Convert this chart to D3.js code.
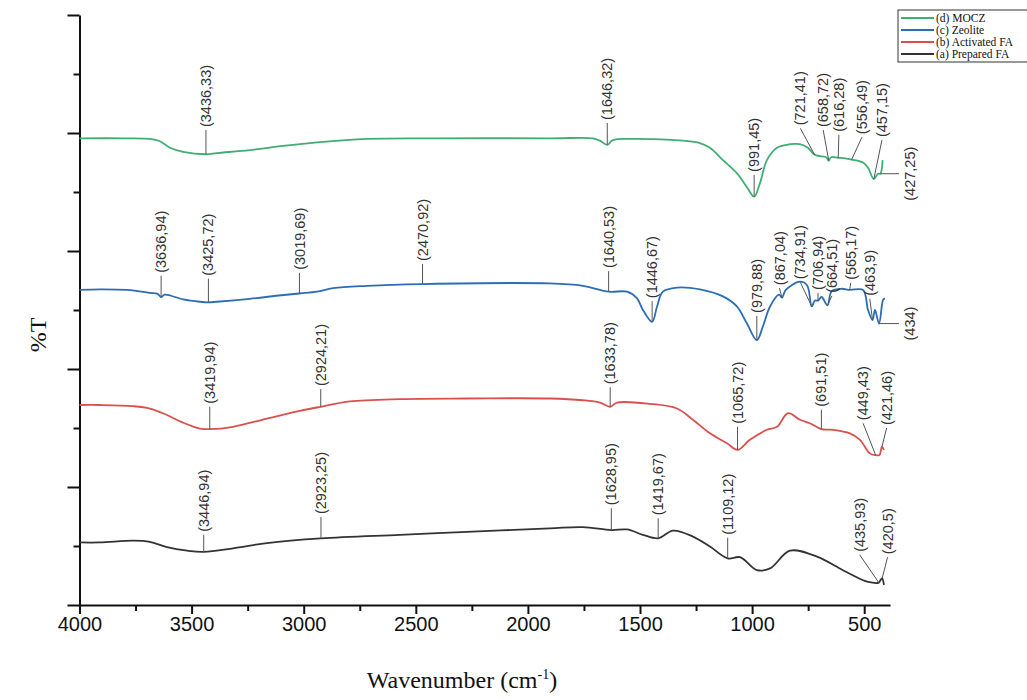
<!DOCTYPE html>
<html>
<head>
<meta charset="utf-8">
<script src="https://cdn.jsdelivr.net/npm/d3@7"></script>
<style>
  body { margin: 0; background: #fff; }
  svg text { font-family: "Liberation Sans", Arial, sans-serif; }
</style>
</head>
<body>
<div id="chart"></div>
<script>
// Data //
var legendNames = ["(d) MOCZ", "(c) Zeolite", "(b) Activated FA", "(a) Prepared FA"];
var colors = ["#3fae72", "#2d6db5", "#d9514c", "#333333"];

var xMajor = [4000, 3500, 3000, 2500, 2000, 1500, 1000, 500];
var xMinor = [3750, 3250, 2750, 2250, 1750, 1250, 750];
var yMajor = [0, 20, 40, 60, 80, 100];
var yMinor = [10, 30, 50, 70, 90];

// [wavenumber, %T (stacked, arbitrary offset)]
var mocz = [[4000,79.1],[3800,79.1],[3686,79.0],[3641,78.6],[3596,77.5],[3538,76.8],[3436,76.4],[3387,76.6],
  [3240,77.1],[3092,77.8],[2941,78.4],[2718,79.0],[2423,79.1],[1902,79.1],[1710,79.1],[1679,78.7],[1646,78.0],
  [1621,78.8],[1531,79.0],[1308,78.7],[1233,78.3],[1188,77.5],[1130,75.4],[1068,73.2],[1023,70.8],[991,69.2],
  [965,71.5],[934,75.4],[889,77.5],[831,78.1],[787,78.1],[751,77.5],[721,76.3],[697,76.1],[670,75.9],[658,75.3],
  [648,75.9],[616,75.8],[585,75.7],[556,75.5],[505,75.0],[483,74.1],[457,72.2],[439,73.1],[428,73.1],[418,75.4]];

var zeolite = [[4000,53.4],[3909,53.5],[3788,53.4],[3686,52.9],[3650,52.7],[3636,52.2],[3620,52.6],[3538,51.8],
  [3463,51.4],[3425,51.3],[3387,51.4],[3240,51.9],[3100,52.5],[3019,52.8],[2941,53.1],[2869,53.7],[2718,54.1],
  [2470,54.4],[1902,54.5],[1755,54.1],[1640,53.1],[1558,53.1],[1514,52.0],[1487,50.0],[1446,48.0],[1424,50.6],
  [1398,53.1],[1335,53.8],[1233,53.5],[1130,52.3],[1068,50.6],[1023,47.7],[979,44.9],[952,47.2],[920,50.6],
  [880,52.6],[867,52.1],[850,53.4],[787,54.8],[755,54.2],[734,50.6],[720,51.6],[706,51.6],[690,52.2],[664,50.8],
  [645,53.2],[600,53.6],[565,53.4],[505,53.4],[483,50.0],[463,48.3],[452,50.0],[434,47.7],[416,51.7],[408,52.0]];

var activatedFA = [[4000,33.9],[3909,33.9],[3761,33.7],[3686,33.3],[3610,32.2],[3538,30.9],[3463,29.9],[3419,29.8],
  [3315,30.2],[3164,31.6],[3017,32.9],[2924,33.6],[2794,34.5],[2571,34.9],[2272,35.0],[1902,35.0],[1755,34.7],
  [1679,34.3],[1633,33.6],[1603,34.3],[1456,34.1],[1335,33.3],[1264,31.4],[1188,29.1],[1112,27.4],[1065,26.3],
  [1010,28.0],[934,29.7],[889,30.2],[840,32.5],[787,31.4],[742,30.8],[691,29.8],[639,29.7],[564,29.1],[519,28.0],
  [475,25.7],[449,25.4],[432,25.4],[421,26.8],[412,26.3]];

var preparedFA = [[4000,10.6],[3909,10.6],[3761,10.9],[3686,10.7],[3610,9.8],[3520,9.2],[3446,9.0],[3315,9.6],
  [3164,10.5],[2923,11.3],[2571,11.9],[2272,12.4],[1902,13.0],[1755,13.2],[1628,12.7],[1558,12.8],[1487,11.9],
  [1419,11.3],[1353,12.6],[1264,11.6],[1188,9.9],[1109,7.9],[1054,8.1],[978,5.9],[920,6.2],[831,9.2],[711,8.2],
  [595,5.9],[505,4.2],[483,3.9],[435,3.8],[426,4.3],[420,4.5],[412,3.4]];

// peak labels: [peak wavenumber, text, label wavenumber, label %T]  (label %T null = side label)
var moczPeaks = [[3436,"(3436,33)",3436,80.5],[1646,"(1646,32)",1646,81.7],[991,"(991,45)",991,72.9],
  [721,"(721,41)",785,80.8],[658,"(658,72)",683,80.5],[616,"(616,28)",613,79.7],[556,"(556,49)",510,79.3],
  [457,"(457,15)",421,78.8],[428,"(427,25)",345,null]];
var zeolitePeaks = [[3636,"(3636,94)",3636,55.8],[3425,"(3425,72)",3425,55.3],[3019,"(3019,69)",3019,56.3],
  [2470,"(2470,92)",2470,57.8],[1640,"(1640,53)",1640,56.6],[1446,"(1446,67)",1446,51.5],[979,"(979,88)",979,49.0],
  [867,"(867,04)",878,53.7],[734,"(734,91)",785,54.7],[706,"(706,94)",706,52.9],[664,"(664,51)",644,52.4],
  [565,"(565,17)",560,54.6],[463,"(463,9)",475,51.9],[434,"(434)",345,null]];
var activatedPeaks = [[3419,"(3419,94)",3419,33.6],[2924,"(2924,21)",2924,36.6],[1633,"(1633,78)",1633,36.9],
  [1065,"(1065,72)",1065,30.2],[691,"(691,51)",691,33.1],[449,"(449,43)",505,30.8],[421,"(421,46)",400,30.0]];
var preparedPeaks = [[3446,"(3446,94)",3446,11.9],[2923,"(2923,25)",2923,14.9],[1628,"(1628,95)",1628,16.4],
  [1419,"(1419,67)",1419,14.7],[1109,"(1109,12)",1109,11.4],[435,"(435,93)",520,8.5],[420,"(420,5)",396,8.1]];

// SVG Setup //
var width = 1027, height = 700;
var svg = d3.select("#chart").append("svg")
  .attr("width", width)
  .attr("height", height);

var x = d3.scaleLinear().domain([4000, 385]).range([79.5, 890]);
var y = d3.scaleLinear().domain([0, 100]).range([605, 15]);

var line = d3.line()
  .curve(d3.curveCatmullRom.alpha(0.5))
  .x(function(d) { return x(d[0]); })
  .y(function(d) { return y(d[1]); });

function valueAt(data, w) {
  for (var i = 0; i < data.length - 1; i++) {
    var a = data[i], b = data[i + 1];
    if (w <= a[0] && w >= b[0]) return a[1] + (b[1] - a[1]) * (a[0] - w) / (a[0] - b[0]);
  }
  return data[data.length - 1][1];
}

var series = [
  {data: mocz, peaks: moczPeaks, color: colors[0]},
  {data: zeolite, peaks: zeolitePeaks, color: colors[1]},
  {data: activatedFA, peaks: activatedPeaks, color: colors[2]},
  {data: preparedFA, peaks: preparedPeaks, color: colors[3]}
];

// axes
var xg = svg.append("g").attr("transform", "translate(0,605)");
xg.append("g").call(d3.axisBottom(x).tickValues(xMinor).tickSize(6).tickFormat("").tickSizeOuter(0))
  .call(function(g) { g.select(".domain").remove(); });
xg.append("g").call(d3.axisBottom(x).tickValues(xMajor).tickSize(9).tickPadding(3).tickSizeOuter(0).tickFormat(d3.format("d")))
  .attr("font-size", 20)
  .attr("font-family", "Liberation Sans, Arial, sans-serif");

var yg = svg.append("g").attr("transform", "translate(79.5,0)");
yg.append("g").call(d3.axisLeft(y).tickValues(yMinor).tickSize(6).tickFormat("").tickSizeOuter(0))
  .call(function(g) { g.select(".domain").remove(); });
yg.append("g").call(d3.axisLeft(y).tickValues(yMajor).tickSize(12).tickFormat("").tickSizeOuter(0));

svg.selectAll(".domain, .tick line").attr("stroke", "#111").attr("stroke-width", 2);
svg.selectAll(".tick text").attr("fill", "#111");

// curves
series.forEach(function(s) {
  svg.append("path")
    .datum(s.data)
    .attr("fill", "none")
    .attr("stroke", s.color)
    .attr("stroke-width", 1.8)
    .attr("stroke-linejoin", "round")
    .attr("d", line);
});

// peak labels
var lab = svg.append("g").attr("class", "peaks");
series.forEach(function(s) {
  s.peaks.forEach(function(p) {
    var cx = x(p[0]), cy = y(valueAt(s.data, p[0]));
    if (p[3] == null) {
      var ex = x(p[2]);
      lab.append("line").attr("x1", cx).attr("y1", cy).attr("x2", ex).attr("y2", cy)
        .attr("stroke", "#555").attr("stroke-width", 1);
      lab.append("text")
        .attr("transform", "translate(" + (ex + 11) + "," + cy + ") rotate(-90)")
        .attr("text-anchor", "middle")
        .attr("dy", "0.35em")
        .attr("font-size", 14.5)
        .attr("fill", "#333")
        .text(p[1]);
    } else {
      var tx = x(p[2]), ty = y(p[3]);
      lab.append("line").attr("x1", cx).attr("y1", cy).attr("x2", tx).attr("y2", ty)
        .attr("stroke", "#555").attr("stroke-width", 1);
      lab.append("text")
        .attr("transform", "translate(" + tx + "," + (ty - 3) + ") rotate(-90)")
        .attr("text-anchor", "start")
        .attr("dy", "0.35em")
        .attr("font-size", 14.5)
        .attr("fill", "#333")
        .text(p[1]);
    }
  });
});

// axis titles
svg.append("text")
  .attr("transform", "translate(46,335) rotate(-90)")
  .attr("text-anchor", "middle")
  .style("font-family", "Liberation Serif, Times New Roman, serif")
  .attr("font-size", 24)
  .attr("fill", "#111")
  .text("%T");

var xt = svg.append("text")
  .attr("x", 462)
  .attr("y", 688)
  .attr("text-anchor", "middle")
  .style("font-family", "Liberation Serif, Times New Roman, serif")
  .attr("font-size", 24)
  .attr("fill", "#111");
xt.append("tspan").text("Wavenumber (cm");
xt.append("tspan").attr("dy", -9).attr("font-size", 14).text("-1");
xt.append("tspan").attr("dy", 9).text(")");

// legend
var leg = svg.append("g").attr("transform", "translate(898,10)");
leg.append("rect").attr("width", 140).attr("height", 52)
  .attr("fill", "#fff").attr("stroke", "#333").attr("stroke-width", 1);
legendNames.forEach(function(n, i) {
  var ly = 8 + i * 12;
  leg.append("line").attr("x1", 3).attr("x2", 36).attr("y1", ly).attr("y2", ly)
    .attr("stroke", colors[i]).attr("stroke-width", 2);
  leg.append("text").attr("x", 38).attr("y", ly).attr("dy", "0.35em")
    .style("font-family", "Liberation Serif, Times New Roman, serif")
    .attr("font-size", 11.5)
    .attr("fill", "#111")
    .text(n);
});
</script>
</body>
</html>
